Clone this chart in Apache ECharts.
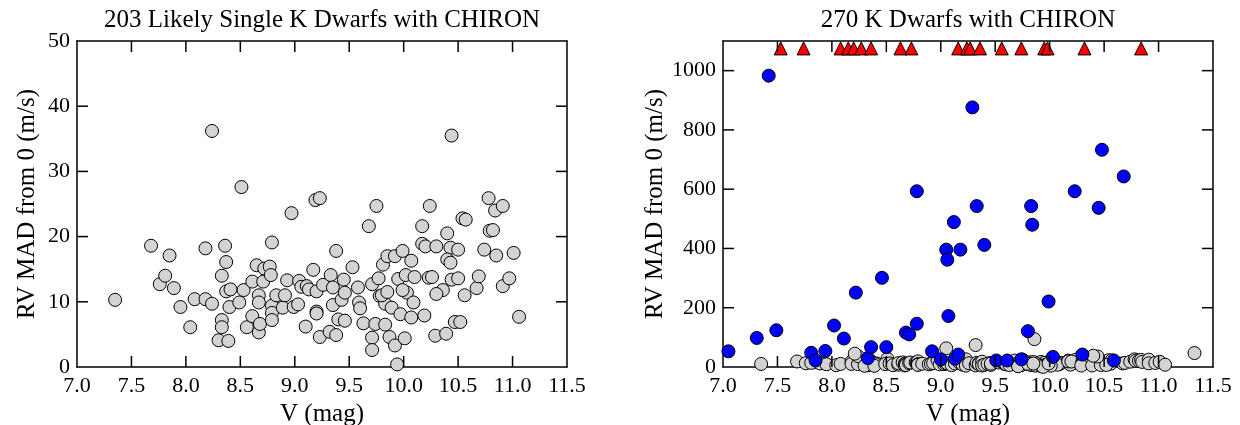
<!DOCTYPE html>
<html>
<head>
<meta charset="utf-8">
<script src="https://cdn.jsdelivr.net/npm/echarts@6/dist/echarts.min.js"></script>
<style>
  html, body { margin: 0; padding: 0; background: #fff; }
  #chart { width: 1240px; height: 425px; }
</style>
</head>
<body>
<div id="chart"></div>
<script>
// likely single stars: [V mag, RV MAD from 0 in m/s]
const singleStars = [
  [7.35, 10.3], [7.68, 18.6], [7.85, 17.1], [7.76, 12.7], [7.81, 14.0], [7.89, 12.1],
  [7.95, 9.2], [8.04, 6.1], [8.08, 10.4], [8.18, 18.2], [8.18, 10.4], [8.24, 9.7],
  [8.24, 36.2], [8.51, 27.6], [8.36, 18.6], [8.37, 16.1], [8.33, 14.0], [8.37, 11.6],
  [8.41, 11.9], [8.40, 9.2], [8.33, 7.2], [8.33, 6.1], [8.30, 4.1], [8.39, 4.0],
  [8.49, 9.9], [8.53, 11.8], [8.56, 6.1], [8.61, 7.8], [8.61, 13.1], [8.65, 15.6],
  [8.67, 11.0], [8.67, 9.9], [8.67, 5.3], [8.68, 6.6], [8.71, 13.1], [8.72, 15.1],
  [8.77, 15.4], [8.78, 14.1], [8.79, 19.1], [8.79, 9.4], [8.79, 8.3], [8.79, 7.2],
  [8.83, 11.0], [8.89, 9.1], [8.91, 11.0], [8.93, 13.3], [8.97, 23.6], [8.99, 9.2],
  [9.03, 9.6], [9.04, 13.2], [9.06, 12.3], [9.11, 12.4], [9.10, 6.2], [9.13, 11.9],
  [9.17, 14.9], [9.20, 11.6], [9.19, 25.6], [9.23, 25.9], [9.20, 8.5], [9.20, 8.2],
  [9.23, 4.6], [9.26, 12.6], [9.32, 5.4], [9.33, 14.1], [9.35, 12.2], [9.35, 9.5],
  [9.38, 17.8], [9.38, 4.9], [9.40, 7.3], [9.45, 13.4], [9.43, 10.3], [9.46, 7.1],
  [9.46, 11.4], [9.53, 15.3],
  [9.75, 24.7], [9.68, 21.6], [9.58, 12.2], [9.71, 12.7], [9.77, 13.6], [9.78, 10.9],
  [9.81, 15.7], [9.85, 17.0], [9.92, 17.0], [9.99, 17.8], [10.07, 16.3], [9.95, 13.5],
  [10.02, 14.1], [10.10, 13.8], [10.23, 13.7], [10.26, 13.8], [10.03, 11.4], [10.09, 9.9],
  [9.83, 9.7], [9.89, 9.1], [9.97, 8.1], [10.07, 7.6], [10.19, 7.9], [9.59, 9.9],
  [9.60, 9.0], [9.63, 6.7], [9.74, 6.6], [9.83, 6.5], [9.71, 4.5], [9.71, 2.6],
  [9.87, 4.6], [9.92, 3.3], [10.01, 4.4], [9.94, 0.4], [10.17, 21.6], [10.24, 24.7],
  [10.17, 18.9], [10.20, 18.5], [10.30, 18.5], [10.40, 20.5], [10.43, 18.3], [10.40, 16.5],
  [10.43, 16.0], [10.50, 18.0], [10.44, 13.4], [10.50, 13.6], [10.36, 11.8], [10.30, 11.2],
  [10.56, 11.0], [10.54, 22.8], [10.57, 22.6], [10.29, 4.8], [10.39, 5.1], [10.47, 6.9],
  [10.52, 6.9], [10.67, 12.1], [10.69, 13.9], [10.74, 18.0], [10.78, 25.9], [10.79, 20.9],
  [10.82, 21.0], [10.84, 24.0], [10.85, 17.1], [10.91, 24.7], [10.91, 12.4], [10.97, 13.6],
  [11.01, 17.5], [11.06, 7.7], [10.44, 35.5], [9.80, 11.0], [9.85, 11.5], [9.99, 11.8]
];

// other quiet stars only in the full sample
const otherQuiet = [
  [9.32, 74], [9.86, 94], [11.33, 47], [9.05, 63], [8.21, 45], [10.40, 38]
];

// stars with large RV MAD (blue)
const variableStars = [
  [7.05, 53], [7.31, 98], [7.42, 983], [7.49, 124], [7.81, 48], [7.85, 22],
  [7.94, 54], [8.02, 140], [8.11, 96], [8.22, 251], [8.33, 30], [8.36, 67],
  [8.46, 301], [8.50, 67], [8.68, 116], [8.71, 110], [8.78, 593], [8.78, 146],
  [8.92, 53], [9.00, 26], [9.05, 396], [9.06, 362], [9.07, 172], [9.12, 489],
  [9.13, 28], [9.16, 42], [9.18, 396], [9.29, 876], [9.33, 543], [9.40, 412],
  [9.51, 22], [9.61, 22], [9.74, 26], [9.83, 543], [9.84, 480], [9.80, 121],
  [9.99, 221], [10.03, 34], [10.23, 593], [10.30, 42], [10.45, 537], [10.48, 733],
  [10.59, 22], [10.68, 643]
];

// stars off the top of the scale (red triangles)
const offScaleV = [
  7.53, 7.74, 8.08, 8.15, 8.20, 8.27, 8.36, 8.63, 8.73, 9.16,
  9.24, 9.27, 9.36, 9.56, 9.74, 9.95, 9.98, 10.32, 10.84
];
const offScaleMad = 1075;

// tick values for the inward ticks on all four sides
const magTicks = [7.5, 8.0, 8.5, 9.0, 9.5, 10.0, 10.5, 11.0];
const leftMadTicks = [10, 20, 30, 40];
const rightMadTicks = [200, 400, 600, 800, 1000];

const titles = ['203 Likely Single K Dwarfs with CHIRON', '270 K Dwarfs with CHIRON'];

const chart = echarts.init(document.getElementById('chart'));

const font = 'Liberation Serif';

function xAxisFor(gridIndex, position) {
  const bottom = position === 'bottom';
  return {
    type: 'value',
    gridIndex: gridIndex,
    position: position,
    min: 7,
    max: 11.5,
    interval: 0.5,
    axisLine: { show: true, onZero: false, lineStyle: { color: '#000', width: 1.5 } },
    axisTick: { show: false },
    axisLabel: {
      show: bottom,
      margin: 8,
      color: '#000',
      fontFamily: font,
      fontSize: 22,
      formatter: (v) => v.toFixed(1),
    },
    splitLine: { show: false },
    name: bottom ? 'V (mag)' : '',
    nameLocation: 'middle',
    nameGap: 33,
    nameTextStyle: { color: '#000', fontFamily: font, fontSize: 25 },
  };
}

function yAxisFor(gridIndex, position, max, interval) {
  const left = position === 'left';
  return {
    type: 'value',
    gridIndex: gridIndex,
    position: position,
    min: 0,
    max: max,
    interval: interval,
    axisLine: { show: true, onZero: false, lineStyle: { color: '#000', width: 1.5 } },
    axisTick: { show: false },
    axisLabel: {
      show: left,
      margin: 7,
      color: '#000',
      fontFamily: font,
      fontSize: 22,
      formatter: (v) => (v % interval === 0 ? String(v) : ''),
    },
    splitLine: { show: false },
    name: left ? 'RV MAD from 0 (m/s)' : '',
    nameLocation: 'middle',
    nameGap: 37,
    nameTextStyle: { color: '#000', fontFamily: font, fontSize: 25 },
  };
}

function dots(name, data, xi, yi, color, symbol) {
  return {
    name: name,
    type: 'scatter',
    xAxisIndex: xi,
    yAxisIndex: yi,
    data: data,
    symbol: symbol || 'circle',
    symbolSize: 13,
    itemStyle: { color: color, borderColor: '#000', borderWidth: 1, opacity: 1 },
  };
}

const titleTexts = titles.map((t, i) => ({
  type: 'text',
  x: i === 0 ? 322 : 968,
  y: 8,
  silent: true,
  style: {
    text: t,
    fill: '#000',
    font: '25px "Liberation Serif"',
    textAlign: 'center',
    textVerticalAlign: 'top',
  },
}));

const option = {
  animation: false,
  graphic: titleTexts,
  grid: [
    { left: 77, top: 41, width: 490, height: 326, containLabel: false, outerBoundsMode: 'none' },
    { left: 723, top: 41, width: 490, height: 326, containLabel: false, outerBoundsMode: 'none' },
  ],
  xAxis: [
    xAxisFor(0, 'bottom'),
    xAxisFor(0, 'top'),
    xAxisFor(1, 'bottom'),
    xAxisFor(1, 'top'),
  ],
  yAxis: [
    yAxisFor(0, 'left', 50, 10),
    yAxisFor(0, 'right', 50, 10),
    yAxisFor(1, 'left', 1100, 200),
    yAxisFor(1, 'right', 1100, 200),
  ],
  series: [
    dots('single', singleStars, 0, 0, '#d3d3d3'),
    dots('single', singleStars, 2, 2, '#d3d3d3'),
    dots('quiet', otherQuiet, 2, 2, '#d3d3d3'),
    dots('variable', variableStars, 2, 2, '#0000ff'),
    dots('off scale', offScaleV.map((v) => [v, offScaleMad]), 2, 2, '#ff0000', 'triangle'),
  ],
};

chart.setOption(option);

// inward ticks on all four sides, placed through each grid's own scales
const TICK = 11;
function tickLine(x1, y1, x2, y2) {
  return {
    type: 'line',
    silent: true,
    z: 100,
    shape: { x1: x1, y1: y1, x2: x2, y2: y2 },
    style: { stroke: '#000', lineWidth: 1.5 },
  };
}
function frameTicks(gridIndex, yMax, yTicks) {
  const out = [];
  magTicks.forEach((v) => {
    const bottom = chart.convertToPixel({ gridIndex: gridIndex }, [v, 0]);
    const top = chart.convertToPixel({ gridIndex: gridIndex }, [v, yMax]);
    out.push(tickLine(bottom[0], bottom[1], bottom[0], bottom[1] - TICK));
    out.push(tickLine(top[0], top[1], top[0], top[1] + TICK));
  });
  yTicks.forEach((m) => {
    const left = chart.convertToPixel({ gridIndex: gridIndex }, [7, m]);
    const right = chart.convertToPixel({ gridIndex: gridIndex }, [11.5, m]);
    out.push(tickLine(left[0], left[1], left[0] + TICK, left[1]));
    out.push(tickLine(right[0], right[1], right[0] - TICK, right[1]));
  });
  return out;
}

chart.setOption({
  graphic: titleTexts.concat(frameTicks(0, 50, leftMadTicks), frameTicks(1, 1100, rightMadTicks)),
});
</script>
</body>
</html>
